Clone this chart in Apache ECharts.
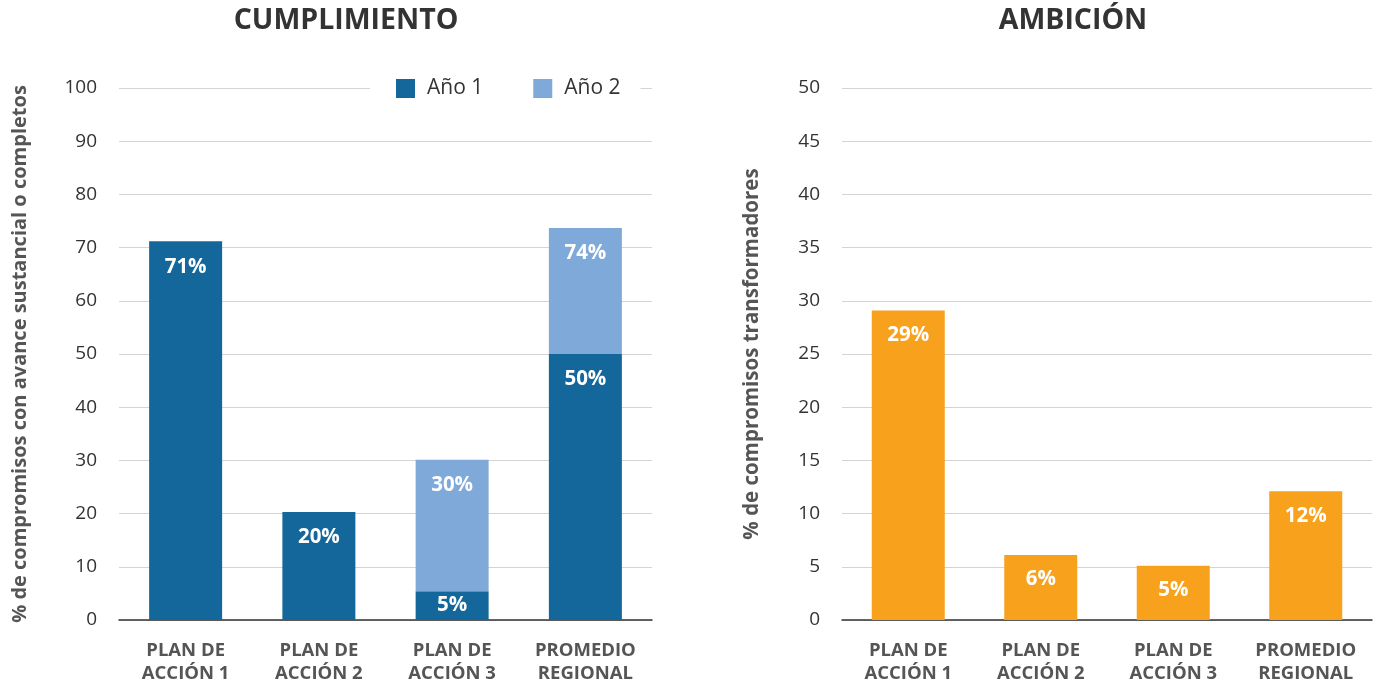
<!DOCTYPE html>
<html><head><meta charset="utf-8">
<script src="https://cdn.jsdelivr.net/npm/echarts@6/dist/echarts.min.js"></script>
<style>html,body{margin:0;padding:0;background:#fff}#c{width:1380px;height:685px}</style>
</head><body><div id="c"></div>
<script>
const categories = ['PLAN DE\nACCIÓN 1', 'PLAN DE\nACCIÓN 2', 'PLAN DE\nACCIÓN 3', 'PROMEDIO\nREGIONAL'];
const ano1 = [71.2, 20.3, 5.4, 50];
const ano2 = [0, 0, 24.7, 23.7];
const ambicion = [29.1, 6.1, 5.1, 12.1];
const FONT = '"Open Sans", Lato, sans-serif';
const chart = echarts.init(document.getElementById('c'));
const catAxis = (gi) => ({
  type: 'category', gridIndex: gi, data: categories,
  axisTick: {show: false},
  axisLine: {lineStyle: {color: '#333', width: 1.5}},
  axisLabel: {color: '#555', fontFamily: FONT, fontWeight: 'bold', fontSize: 18.5, lineHeight: 23, margin: 19}
});
const valAxis = (gi, max, interval, name, gap, nsize) => ({
  type: 'value', gridIndex: gi, min: 0, max: max, interval: interval,
  name: name, nameLocation: 'middle', nameGap: gap,
  nameTextStyle: {color: '#555', fontFamily: FONT, fontWeight: 'bold', fontSize: nsize},
  axisLine: {show: false}, axisTick: {show: false},
  axisLabel: {color: '#333', fontFamily: FONT, fontSize: 19, margin: 22},
  splitLine: {lineStyle: {color: '#d4d4d4', width: 1.2}}
});
const lbl = {show: true, position: 'insideTop', distance: 15, color: '#fff', fontFamily: FONT, fontWeight: 'bold', fontSize: 20.5};
// small segments get their label centred
const ano1Data = ano1.map(v => v < 10 ? {value: v, label: {position: 'inside'}} : v);
chart.setOption({
  animation: false,
  title: [
    {text: 'CUMPLIMIENTO', left: 341, top: 1, textAlign: 'center', textStyle: {color: '#333', fontFamily: FONT, fontWeight: 'bold', fontSize: 28.5}},
    {text: 'AMBICIÓN', left: 1068, top: 1, textAlign: 'center', textStyle: {color: '#333', fontFamily: FONT, fontWeight: 'bold', fontSize: 28.5}}
  ],
  legend: {
    left: 370, top: 76, itemWidth: 19, itemHeight: 19, itemGap: 50, padding: [2, 20, 2, 26],
    backgroundColor: '#fff',
    textStyle: {color: '#333', fontFamily: FONT, fontSize: 21, padding: [0, 0, 0, 7]},
    icon: 'rect',
    data: ['Año 1', 'Año 2']
  },
  grid: [
    {left: 119, width: 533, top: 88, height: 532},
    {left: 842, width: 530, top: 88, height: 532}
  ],
  xAxis: [catAxis(0), catAxis(1)],
  yAxis: [
    valAxis(0, 100, 10, '% de compromisos con avance sustancial o completos', 89, 20),
    valAxis(1, 50, 5, '% de compromisos transformadores', 79, 20.5)
  ],
  series: [
    {name: 'Año 1', type: 'bar', stack: 's', xAxisIndex: 0, yAxisIndex: 0, barWidth: 73,
     itemStyle: {color: '#13679b'}, data: ano1Data,
     label: Object.assign({}, lbl, {distance: 15, formatter: p => Math.round(p.value) + '%'})},
    {name: 'Año 2', type: 'bar', stack: 's', xAxisIndex: 0, yAxisIndex: 0, barWidth: 73,
     itemStyle: {color: '#7fa9d9'}, data: ano2,
     label: Object.assign({}, lbl, {formatter: p => p.value > 0 ? Math.round(p.value + ano1[p.dataIndex]) + '%' : ''})},
    {name: 'Ambición', type: 'bar', xAxisIndex: 1, yAxisIndex: 1, barWidth: 73,
     itemStyle: {color: '#f7a11d'}, data: ambicion,
     label: Object.assign({}, lbl, {distance: 14, formatter: p => Math.round(p.value) + '%'})}
  ]
});
</script></body></html>
